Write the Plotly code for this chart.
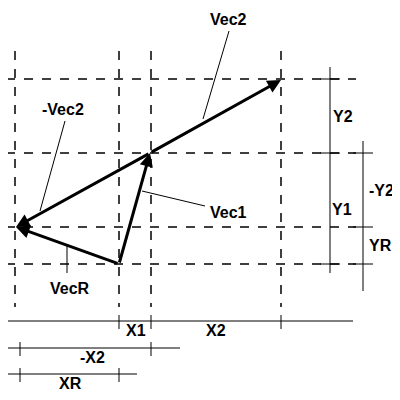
import plotly.graph_objects as go

# points (diagram units)
O = (119, 263); A = (150, 152); B = (281, 79); R = (16, 226)
vlines_x = [15, 119, 151, 281]
hlines_y = [78, 152, 226, 263]
vectors = [(O, A), (A, B), (A, R), (O, R)]
labels = [("Vec2", 228, 18), ("-Vec2", 63, 108), ("Vec1", 228, 211), ("VecR", 70, 287),
          ("Y2", 343, 115), ("Y1", 342, 208), ("-Y2", 381, 189), ("YR", 380, 244),
          ("X1", 136, 329), ("X2", 216, 329), ("-X2", 92, 356), ("XR", 70, 382)]
leaders = [((229, 30), (203, 118)), ((65, 120), (40, 210)), ((142, 190), (205, 205)), ((67, 245), (67, 272))]
dims_v = [(330, 66, 272, [78, 152, 263]), (363, 140, 290, [152, 226, 263])]
dims_h = [(320, 0, 353, [119, 151, 281]), (347, 0, 180, [20, 151]), (373, 7, 137, [20, 119])]

fig = go.Figure()
shapes = []
dash = dict(color="black", width=1.5, dash="dash")
for x in vlines_x:
    shapes.append(dict(type="line", x0=x, x1=x, y0=50, y1=306, line=dash))
for y in hlines_y:
    shapes.append(dict(type="line", x0=6, x1=356, y0=y, y1=y, line=dash))
solid = dict(color="black", width=1)
for (p, q) in leaders:
    shapes.append(dict(type="line", x0=p[0], y0=p[1], x1=q[0], y1=q[1], line=solid))
for x, y0, y1, ts in dims_v:
    shapes.append(dict(type="line", x0=x, x1=x, y0=y0, y1=y1, line=solid))
    for t in ts:
        shapes.append(dict(type="line", x0=x - 10, x1=x + 10, y0=t, y1=t, line=solid))
for y, x0, x1, ts in dims_h:
    shapes.append(dict(type="line", x0=x0, x1=x1, y0=y, y1=y, line=solid))
    for t in ts:
        shapes.append(dict(type="line", x0=t, x1=t, y0=y - 6, y1=y + 8, line=solid))

anns = []
for (p, q) in vectors:
    anns.append(dict(x=q[0], y=q[1], ax=p[0], ay=p[1], xref="x", yref="y", axref="x", ayref="y",
                     showarrow=True, arrowhead=2, arrowsize=0.9, arrowwidth=3, arrowcolor="black", text=""))
for t, x, y in labels:
    anns.append(dict(x=x, y=y, text="<b>%s</b>" % t, showarrow=False,
                     font=dict(family="Liberation Sans, Arial", size=16, color="black")))

fig.add_trace(go.Scatter(x=[10, 400], y=[10, 400], mode="markers", marker=dict(opacity=0), hoverinfo="skip"))
fig.update_layout(width=400, height=400, margin=dict(l=0, r=0, t=0, b=0), showlegend=False,
                  plot_bgcolor="white", paper_bgcolor="white", shapes=shapes, annotations=anns)
fig.update_xaxes(range=[8, 408], visible=False)
fig.update_yaxes(range=[407, 7], visible=False)
fig.write_html("out.html")
